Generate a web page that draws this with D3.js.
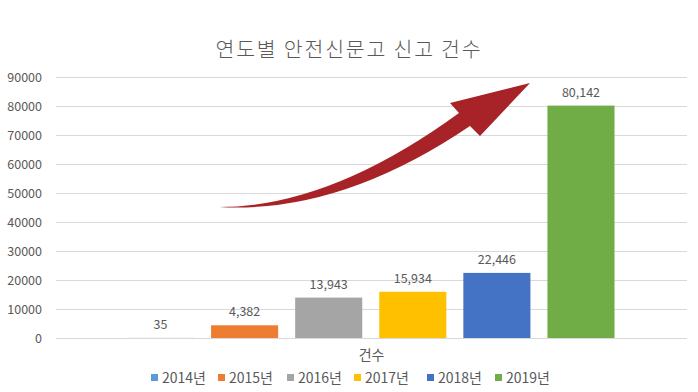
<!DOCTYPE html>
<html><head><meta charset="utf-8">
<script src="https://cdn.jsdelivr.net/npm/d3@7"></script>
<style>
html,body{margin:0;padding:0;background:#fff;}
svg text{font-family:"Noto Sans CJK KR","Noto Sans",sans-serif;fill:#595959;}
</style></head><body>
<svg id="c" width="698" height="392"></svg>
<script>
const categories = ["건수"];
const seriesNames = ["2014년","2015년","2016년","2017년","2018년","2019년"];
const seriesValues = [35, 4382, 13943, 15934, 22446, 80142];
const seriesColors = ["#5B9BD5","#ED7D31","#A5A5A5","#FFC000","#4472C4","#70AD47"];
const yTicks = [0,10000,20000,30000,40000,50000,60000,70000,80000,90000];
const title = "연도별 안전신문고 신고 건수";

const svg = d3.select("#c");
const m = {left:56, right:11, top:76, bottom:54};
const W = 698, H = 392;
const x0 = d3.scaleBand().domain(categories).range([m.left, W-m.right]).paddingInner(0).paddingOuter(0);
const x1 = d3.scaleBand().domain(seriesNames).range([71, 558.5]).paddingInner(0.2024).paddingOuter(0);
const y = d3.scaleLinear().domain([0,90000]).range([338, 77]);

svg.append("text").attr("x", 349).attr("y", 57).attr("text-anchor","middle")
  .style("font-size","20.5px").style("font-weight","300").style("letter-spacing","1.8px").text(title);

// gridlines
svg.append("g").selectAll("line").data(yTicks).join("line")
  .attr("x1", m.left).attr("x2", W-m.right)
  .attr("y1", d=>y(d)+0.5).attr("y2", d=>y(d)+0.5)
  .attr("stroke","#D9D9D9").attr("stroke-width",1);

// y axis labels
const ya = svg.append("g").attr("transform",`translate(${m.left-14},0)`)
  .call(d3.axisLeft(y).tickValues(yTicks).tickSize(0).tickPadding(0).tickFormat(d3.format("d")));
ya.select(".domain").remove();
ya.selectAll("text").style("font-size","12.5px").style("fill","#595959")
  .style("font-family",'"Noto Sans CJK KR","Noto Sans",sans-serif');

const data = seriesNames.map((s,i)=>({cat:categories[0], s, v:seriesValues[i], c:seriesColors[i]}));
const g = svg.append("g");
g.selectAll("rect").data(data).join("rect")
  .attr("x", d=>x0(d.cat)+x1(d.s)).attr("width", x1.bandwidth())
  .attr("y", d=>y(d.v)).attr("height", d=>y(0)-y(d.v)).attr("fill", d=>d.c);
g.selectAll("text.lbl").data(data).join("text").attr("class","lbl")
  .attr("x", d=>x0(d.cat)+x1(d.s)+x1.bandwidth()/2).attr("y", d=>y(d.v)-9)
  .attr("text-anchor","middle").style("font-size","12.5px")
  .text(d=>d3.format(",")(d.v));

// category axis label
svg.append("g").attr("transform",`translate(0,${y(0)})`)
  .call(d3.axisBottom(x0).tickSize(0).tickPadding(12))
  .call(a=>a.select(".domain").remove())
  .selectAll("text").style("font-size","14px").style("fill","#595959")
  .style("font-family",'"Noto Sans CJK KR","Noto Sans",sans-serif');

// legend
const legX = [151,218,287,354,427,495];
const leg = svg.append("g").selectAll("g").data(data).join("g")
  .attr("transform",(d,i)=>`translate(${legX[i]},378)`);
leg.append("rect").attr("x",0).attr("y",-4).attr("width",7).attr("height",7).attr("fill",d=>d.c);
leg.append("text").attr("x",11).attr("y",5).style("font-size","14px").text(d=>d.s);

// decorative curved arrow
svg.append("path")
  .attr("d","M219,207 Q330,207 459,113 L450,103 L530,83 L480,136 L470,126 Q340,214 219,207 Z")
  .attr("fill","#A82328");
</script></body></html>
